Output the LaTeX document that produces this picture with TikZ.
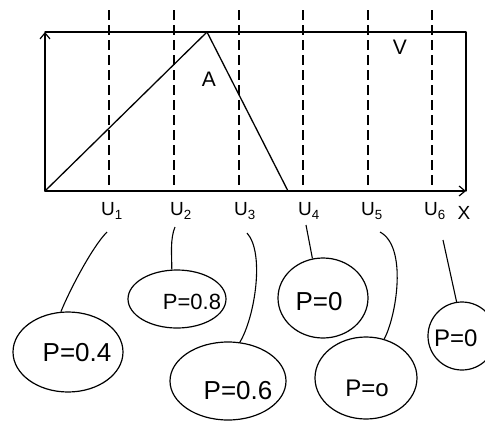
\documentclass[tikz,border=0pt]{standalone}
\usepackage{fontspec}
\setsansfont{Liberation Sans}
\usetikzlibrary{shapes.geometric,arrows.meta}
\begin{document}
\begin{tikzpicture}[x=1pt,y=-1pt,
  ln/.style={line width=1.3pt,line cap=round,line join=round},
  dsh/.style={line width=1.1pt,dash pattern=on 10pt off 5pt},
  bub/.style={draw,ellipse,line width=1.2pt,inner sep=0pt},
  conn/.style={line width=1.1pt},
  lab/.style={font=\sffamily\fontsize{19}{22}\selectfont,inner sep=1pt},
  ptxt/.style={font=\sffamily\fontsize{26}{28}\selectfont,inner sep=0pt},
  tip/.style={-{Straight Barb[length=6pt,width=10pt,line width=1.2pt]}}]
\fill[white] (0,0) rectangle (485,426);
\useasboundingbox (0,0) rectangle (485,426);

% dashed verticals
\foreach \i/\x in {1/109,2/174,3/239,4/303,5/368,6/432}{
  \coordinate (d\i t) at (\x,10);
  \coordinate (d\i b) at (\x,191);
  \draw[dsh] (d\i t) -- (d\i b);
}

% frame and axes
\coordinate (O) at (45,191);
\coordinate (TL) at (45,32);
\coordinate (TR) at (466,32);
\coordinate (BR) at (466,191);
\coordinate (apex) at (207,32);
\coordinate (foot) at (288,191);
\draw[ln] (TL) -- (TR) -- (BR);
\draw[ln,tip] (O) -- (TL);
\draw[ln,tip] (O) -- (BR);
\draw[ln] (O) -- (apex) -- (foot);

\node[lab,font=\sffamily\fontsize{21}{24}\selectfont] (A) at (209,79) {A};
\node[lab,font=\sffamily\fontsize{21}{24}\selectfont] (V) at (400,47) {V};

% axis labels
\node[lab] (u1) at (112,211) {U\textsubscript{1}};
\node[lab] (u2) at (181,211) {U\textsubscript{2}};
\node[lab] (u3) at (245,211) {U\textsubscript{3}};
\node[lab] (u4) at (309,211) {U\textsubscript{4}};
\node[lab] (u5) at (372,211) {U\textsubscript{5}};
\node[lab] (u6) at (435,211) {U\textsubscript{6}};
\node[lab] (X) at (464,213) {X};

% bubbles
\node[bub,minimum width=110pt,minimum height=80pt] (b1) at (68,352) {};
\node[bub,minimum width=98pt,minimum height=58pt] (b2) at (177,299) {};
\node[bub,minimum width=116pt,minimum height=78pt] (b3) at (228,381) {};
\node[bub,minimum width=90pt,minimum height=80pt] (b4) at (323,298) {};
\node[bub,minimum width=102pt,minimum height=82pt] (b5) at (366,378) {};
\node[bub,minimum width=68pt,minimum height=68pt] (b6) at (462,336) {};

\node[ptxt] (t1) at (77,353) {P=0.4};
\node[ptxt,font=\sffamily\fontsize{22}{24}\selectfont] (t2) at (192,302) {P=0.8};
\node[ptxt] (t3) at (238,391) {P=0.6};
\node[ptxt] (t4) at (319,302) {P=0};
\node[ptxt,font=\sffamily\fontsize{24}{26}\selectfont] (t5) at (367,388) {P=o};
\node[ptxt,font=\sffamily\fontsize{24}{26}\selectfont,anchor=west] (t6) at (434,338) {P=0};

% connectors
\draw[conn] ([shift={(-5,21)}]u1.center) .. controls +(-15,15) and +(8,-20) .. (b1.100);
\draw[conn] ([shift={(-6,16)}]u2.center) .. controls +(-5,12) and +(0,-15) .. (b2.100);
\draw[conn] ([shift={(2,22)}]u3.center) .. controls +(18,20) and +(15,-25) .. (b3.73);
\draw[conn] ([shift={(-3,14)}]u4.center) -- (b4.105);
\draw[conn] ([shift={(8,21)}]u5.center) .. controls +(28,15) and +(12,-22) .. (b5.65);
\draw[conn] ([shift={(8,29)}]u6.center) -- (b6.99);
\end{tikzpicture}
\end{document}
